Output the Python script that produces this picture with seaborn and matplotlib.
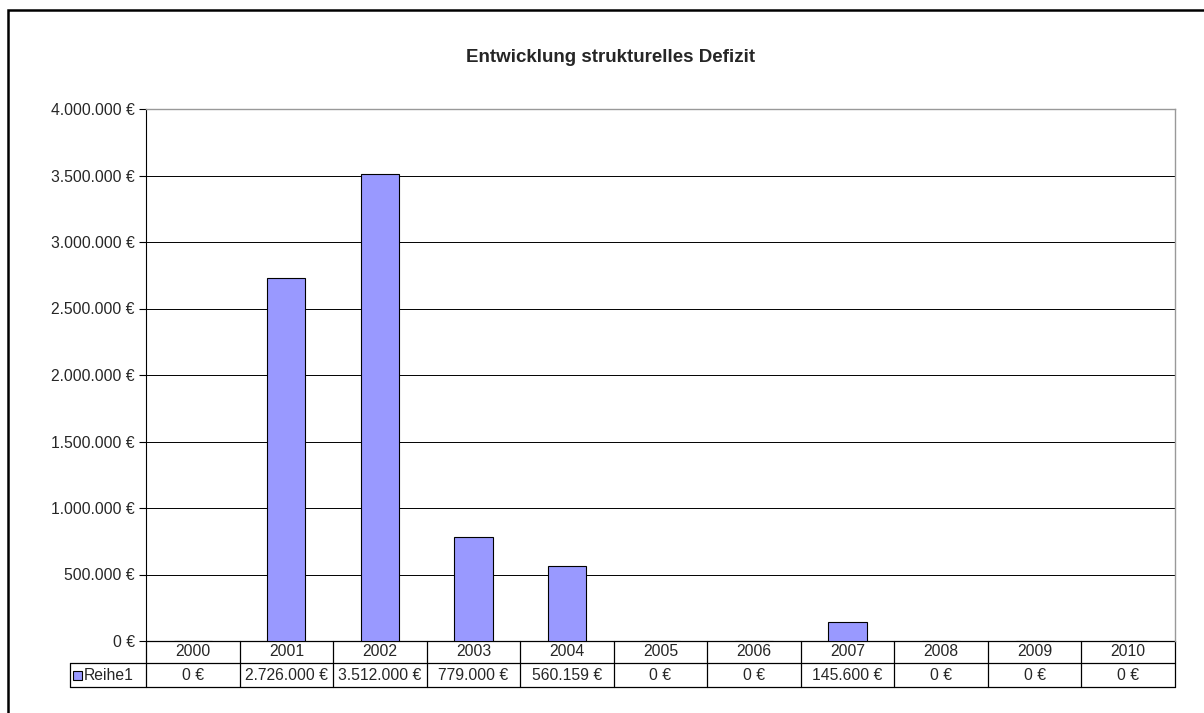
import numpy as np
import pandas as pd
import seaborn as sns
import matplotlib.pyplot as plt
from matplotlib.patches import Rectangle
from matplotlib.ticker import FuncFormatter

# chart data
years = ["2000", "2001", "2002", "2003", "2004", "2005",
         "2006", "2007", "2008", "2009", "2010"]
defizit = [0, 2726000, 3512000, 779000, 560159, 0, 0, 145600, 0, 0, 0]
series_name = "Reihe1"
title = "Entwicklung strukturelles Defizit"

df = pd.DataFrame({"Jahr": years, "Defizit": defizit})


def euro(v):
    return f"{int(round(v)):,}".replace(",", ".") + " €"


sns.set_style("white")
plt.rcParams["font.family"] = ["Liberation Sans", "DejaVu Sans"]

W, H = 1204, 713
fig = plt.figure(figsize=(W / 100, H / 100), dpi=100)
fig.patch.set_facecolor("white")

# plot area in pixel coordinates of the reference
x0, x1, y_top, y_zero = 146, 1175, 109, 641
ax = fig.add_axes([x0 / W, (H - y_zero) / H, (x1 - x0) / W, (y_zero - y_top) / H])

bar_color = "#9999FF"
sns.barplot(data=df, x="Jahr", y="Defizit", color=bar_color, edgecolor="black",
            linewidth=0.8, width=0.41, saturation=1, ax=ax, zorder=3)

fs = 11.3
ax.set_ylim(0, 4000000)
ax.set_xlim(-0.5, len(years) - 0.5)
ax.set_yticks(np.arange(0, 4000001, 500000))
ax.yaxis.set_major_formatter(FuncFormatter(lambda v, p: euro(v)))
ax.tick_params(axis="y", length=5, width=0.8, color="black", left=True,
               labelsize=fs, pad=3)
ax.tick_params(axis="x", bottom=False, labelbottom=False)
ax.set_xlabel("")
ax.set_ylabel("")
ax.grid(axis="y", color="black", linewidth=0.7, zorder=0)
ax.set_axisbelow(True)

ax.spines["bottom"].set_visible(False)
ax.spines["left"].set_color("black")
ax.spines["left"].set_linewidth(0.8)
for side in ["top", "right"]:
    ax.spines[side].set_color("#999999")
    ax.spines[side].set_linewidth(1.0)
    ax.spines[side].set_zorder(4)

# data table below the plot area
trans = ax.get_xaxis_transform()
px = 1.0 / (y_zero - y_top)
row1 = -22 * px
row2 = -46 * px
left_edge = -0.5 - (x0 - 70) / ((x1 - x0) / len(years))
right_edge = len(years) - 0.5
lw = 0.9
kw = dict(transform=trans, clip_on=False, color="black", linewidth=lw)

ax.plot([-0.5, right_edge], [0, 0], **kw)
ax.plot([left_edge, right_edge], [row1, row1], **kw)
ax.plot([left_edge, right_edge], [row2, row2], **kw)
ax.plot([left_edge, left_edge], [row1, row2], **kw)
for i in range(len(years) + 1):
    ax.plot([i - 0.5, i - 0.5], [0, row2], **kw)

for i, (yr, v) in enumerate(zip(years, defizit)):
    ax.text(i, row1 / 2, yr, transform=trans, ha="center", va="center",
            fontsize=fs, clip_on=False)
    ax.text(i, (row1 + row2) / 2, euro(v), transform=trans, ha="center",
            va="center", fontsize=fs, clip_on=False)

# legend key inside the row label cell
unit = (x1 - x0) / len(years)
ax.add_patch(Rectangle((left_edge + 3 / unit, (row1 + row2) / 2 - 4.5 * px), 9 / unit, 9 * px,
                       transform=trans, facecolor=bar_color, edgecolor="black",
                       linewidth=0.8, clip_on=False))
ax.text(left_edge + 14 / unit, (row1 + row2) / 2, series_name, transform=trans,
        ha="left", va="center", fontsize=fs, clip_on=False)

fig.text(611 / W, 1 - 58 / H, title, ha="center", va="center",
         fontsize=13.5, fontweight="bold")

# outer chart border (right and bottom edges fall outside the image)
fig.patches.append(Rectangle((8 / W, -0.01), 1.0, 1 - 10 / H + 0.01,
                             transform=fig.transFigure, fill=False,
                             edgecolor="black", linewidth=1.8))

fig.savefig("out.png", dpi=100)
